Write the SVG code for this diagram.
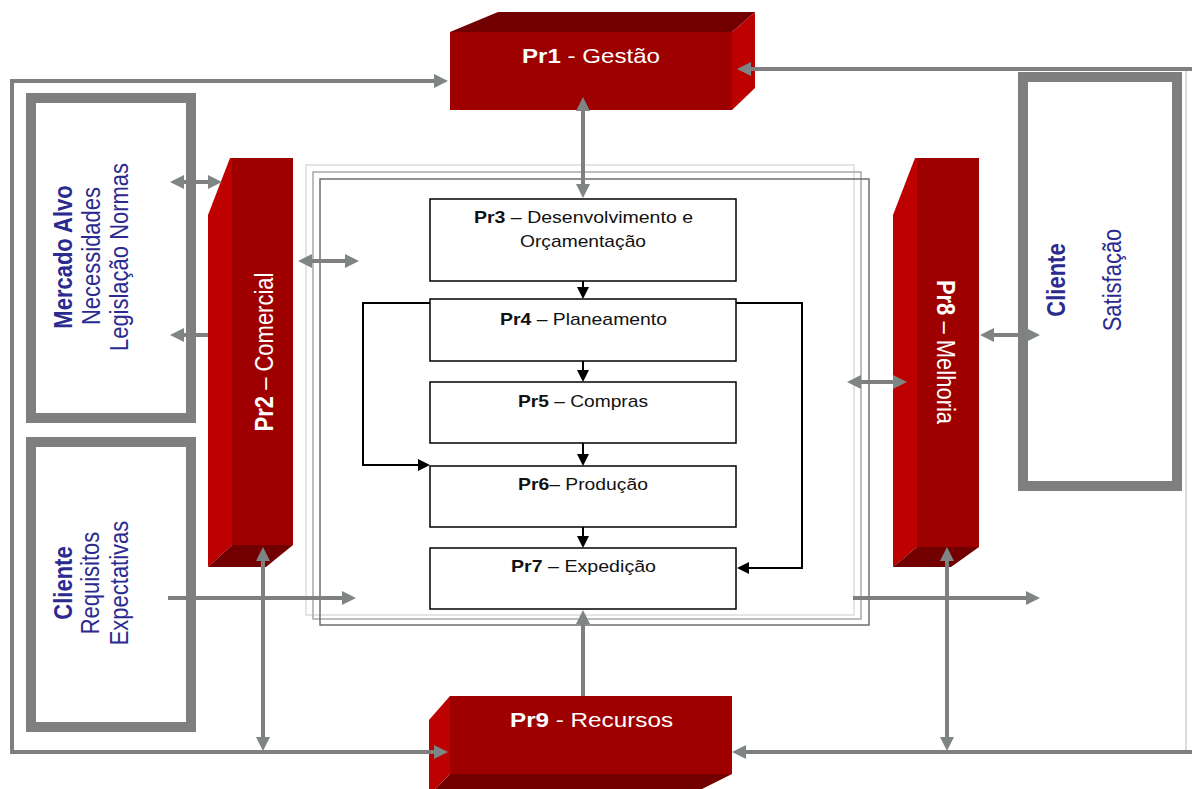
<svg xmlns="http://www.w3.org/2000/svg" width="1192" height="789" viewBox="0 0 1192 789">
<style>
.front{fill:#9e0000}
.light{fill:#bd0000}
.dark{fill:#720000}
.wt{fill:#ffffff;font-family:"Liberation Sans",Arial,sans-serif;font-size:22px}
.wth{fill:#ffffff;font-family:"Liberation Sans",Arial,sans-serif;font-size:21px}
.bt{fill:#2b2b8f;font-family:"Liberation Sans",Arial,sans-serif;font-size:22px;text-anchor:middle}
.pt{fill:#111111;font-family:"Liberation Sans",Arial,sans-serif;font-size:17px;text-anchor:middle}
.b{font-weight:bold}
.gbox{fill:#ffffff;stroke:#7f7f7f;stroke-width:10}
.proc{fill:#ffffff;stroke:#000000;stroke-width:1.5}
.g{fill:none;stroke:#7f7f7f;stroke-width:4}
.k{fill:none;stroke:#000000;stroke-width:2}
</style>
<defs>
<marker id="ga" viewBox="0 0 14 14" refX="7" refY="7" markerWidth="14" markerHeight="14" markerUnits="userSpaceOnUse" orient="auto-start-reverse">
<path d="M0,0 L14,7 L0,14 z" fill="#7f8585"/>
</marker>
<marker id="ka" viewBox="0 0 12 12" refX="6" refY="6" markerWidth="12" markerHeight="12" markerUnits="userSpaceOnUse" orient="auto-start-reverse">
<path d="M0,0 L12,6 L0,12 z" fill="#000000"/>
</marker>
</defs>
<rect width="1192" height="789" fill="#ffffff"/>

<line x1="1186" y1="69" x2="1186" y2="752" stroke="#cfcfcf" stroke-width="1.5"/>

<g id="mercado">
<rect class="gbox" x="31" y="98" width="160" height="320"/>
<text class="bt" transform="translate(72,257) scale(1.15,1) rotate(-90)"><tspan class="b">Mercado Alvo</tspan></text>
<text class="bt" transform="translate(100,256) scale(1.15,1) rotate(-90)">Necessidades</text>
<text class="bt" transform="translate(128,257) scale(1.15,1) rotate(-90)">Legislação Normas</text>
</g>

<g id="cliente-req">
<rect class="gbox" x="31" y="442" width="160" height="285"/>
<text class="bt" transform="translate(72,583) scale(1.15,1) rotate(-90)"><tspan class="b">Cliente</tspan></text>
<text class="bt" transform="translate(99,583) scale(1.15,1) rotate(-90)">Requisitos</text>
<text class="bt" transform="translate(128,583) scale(1.15,1) rotate(-90)">Expectativas</text>
</g>

<g id="cliente-sat">
<rect class="gbox" x="1023" y="77" width="154" height="409"/>
<text class="bt" transform="translate(1065,280) scale(1.15,1) rotate(-90)"><tspan class="b">Cliente</tspan></text>
<text class="bt" transform="translate(1121,280) scale(1.15,1) rotate(-90)">Satisfação</text>
</g>

<g id="frames" fill="none">
<rect x="306" y="165" width="548" height="450" stroke="#dcdcdc" stroke-width="1.5"/>
<rect x="313" y="172" width="548" height="447" stroke="#a8a8a8" stroke-width="1.5"/>
<rect x="320" y="179" width="549" height="446" stroke="#6e6e6e" stroke-width="1.5"/>
</g>

<g id="pr3">
<rect class="proc" x="430" y="199" width="306" height="82"/>
<text class="pt" x="583.5" y="223" textLength="219" lengthAdjust="spacingAndGlyphs"><tspan class="b">Pr3</tspan> – Desenvolvimento e</text>
<text class="pt" x="583" y="247" textLength="126" lengthAdjust="spacingAndGlyphs">Orçamentação</text>
</g>
<g id="pr4">
<rect class="proc" x="430" y="299" width="306" height="62"/>
<text class="pt" x="583.5" y="325" textLength="167" lengthAdjust="spacingAndGlyphs"><tspan class="b">Pr4</tspan> – Planeamento</text>
</g>
<g id="pr5">
<rect class="proc" x="430" y="382" width="306" height="61"/>
<text class="pt" x="583" y="407" textLength="130" lengthAdjust="spacingAndGlyphs"><tspan class="b">Pr5</tspan> – Compras</text>
</g>
<g id="pr6">
<rect class="proc" x="430" y="466" width="306" height="61"/>
<text class="pt" x="583" y="490" textLength="130" lengthAdjust="spacingAndGlyphs"><tspan class="b">Pr6</tspan>– Produção</text>
</g>
<g id="pr7">
<rect class="proc" x="430" y="548" width="306" height="61"/>
<text class="pt" x="583.5" y="572" textLength="145" lengthAdjust="spacingAndGlyphs"><tspan class="b">Pr7</tspan> – Expedição</text>
</g>

<g id="pr1">
<polygon class="dark" points="450,32 498,12 755,12 732,32"/>
<polygon class="light" points="732,32 755,12 755,88 732,110"/>
<rect class="front" x="450" y="32" width="282" height="78"/>
<text class="wth" x="591" y="63" text-anchor="middle" textLength="138" lengthAdjust="spacingAndGlyphs"><tspan class="b">Pr1</tspan> - Gestão</text>
</g>

<g id="pr9">
<polygon class="light" points="450,696 429,720 429,795 450,774"/>
<polygon class="dark" points="450,774 732,774 690,795 429,795"/>
<rect class="front" x="450" y="696" width="282" height="78"/>
<text class="wth" x="591.5" y="727" text-anchor="middle" textLength="163" lengthAdjust="spacingAndGlyphs"><tspan class="b">Pr9</tspan> - Recursos</text>
</g>

<g id="pr2">
<polygon class="light" points="230,158 232,158 232,545 208,567 208,215"/>
<polygon class="dark" points="232,545 293,545 266,567 208,567"/>
<rect class="front" x="232" y="158" width="61" height="387"/>
<text class="wt" text-anchor="middle" transform="translate(273,352) scale(1.15,1) rotate(-90)"><tspan class="b">Pr2</tspan> – Comercial</text>
</g>

<g id="pr8">
<polygon class="light" points="915,158 917,158 917,547 893,567 893,215"/>
<polygon class="dark" points="917,547 979,547 951,567 893,567"/>
<rect class="front" x="917" y="158" width="62" height="389"/>
<text class="wt" text-anchor="middle" transform="translate(937,352) scale(1.15,1) rotate(90)"><tspan class="b">Pr8</tspan> – Melhoria</text>
</g>

<g id="connectors">
<path class="g" d="M441,81 H12 V752 H441" marker-start="url(#ga)" marker-end="url(#ga)"/>
<path class="g" d="M1192,69 H744" marker-end="url(#ga)"/>
<path class="g" d="M1192,752 H739" marker-end="url(#ga)"/>
<path class="g" d="M583,104 V191" marker-start="url(#ga)" marker-end="url(#ga)"/>
<path class="g" d="M583,696 V617" marker-end="url(#ga)"/>
<path class="g" d="M177,182 H215" marker-start="url(#ga)" marker-end="url(#ga)"/>
<path class="g" d="M208,335 H177" marker-end="url(#ga)"/>
<path class="g" d="M305,261 H352" marker-start="url(#ga)" marker-end="url(#ga)"/>
<path class="g" d="M168,598 H349" marker-end="url(#ga)"/>
<path class="g" d="M263,554 V744" marker-start="url(#ga)" marker-end="url(#ga)"/>
<path class="g" d="M987,335 H1033" marker-start="url(#ga)" marker-end="url(#ga)"/>
<path class="g" d="M854,382 H900" marker-start="url(#ga)" marker-end="url(#ga)"/>
<path class="g" d="M853,598 H1033" marker-end="url(#ga)"/>
<path class="g" d="M947,554 V744" marker-start="url(#ga)" marker-end="url(#ga)"/>

<path class="k" d="M583,281 V293" marker-end="url(#ka)"/>
<path class="k" d="M583,361 V376" marker-end="url(#ka)"/>
<path class="k" d="M583,443 V460" marker-end="url(#ka)"/>
<path class="k" d="M583,527 V542" marker-end="url(#ka)"/>
<path class="k" d="M430,303 H363 V465 H424" marker-end="url(#ka)"/>
<path class="k" d="M736,303 H802 V568 H743" marker-end="url(#ka)"/>
</g>
</svg>
